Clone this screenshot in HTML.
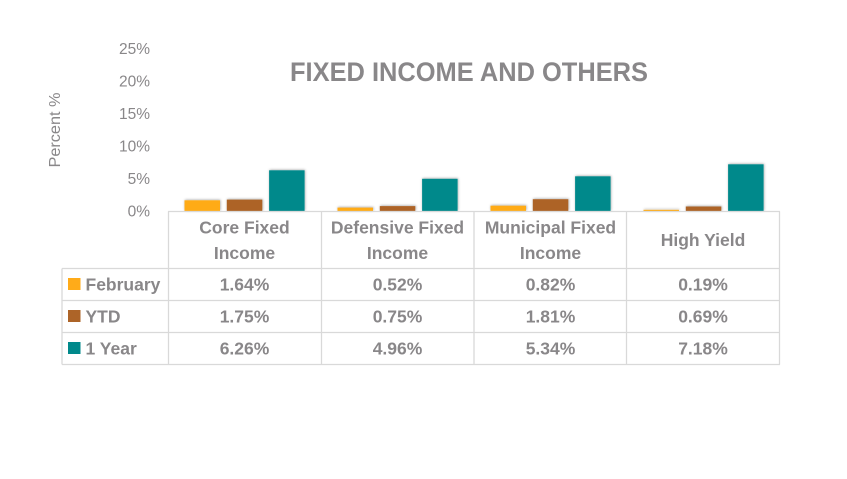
<!DOCTYPE html>
<html>
<head>
<meta charset="utf-8">
<style>
html,body{margin:0;padding:0;background:#fff;}
svg{display:block;}
text{font-family:"Liberation Sans",Arial,sans-serif;fill:#898789;}
</style>
</head>
<body>
<svg width="847" height="479" viewBox="0 0 847 479" xmlns="http://www.w3.org/2000/svg">
<defs>
<filter id="sh" x="-30%" y="-30%" width="160%" height="160%">
<feDropShadow dx="0.5" dy="-0.5" stdDeviation="1.4" flood-color="#000" flood-opacity="0.35"/>
</filter>
</defs>

<!-- Title -->
<text x="469" y="81" font-size="27" font-weight="bold" text-anchor="middle" textLength="358" lengthAdjust="spacingAndGlyphs">FIXED INCOME AND OTHERS</text>

<!-- Y axis title -->
<text transform="translate(60,130) rotate(-90)" font-size="15.5" text-anchor="middle" textLength="75" lengthAdjust="spacingAndGlyphs">Percent %</text>

<!-- Y tick labels -->
<g font-size="15.5" text-anchor="end">
<text x="150" y="216.5">0%</text>
<text x="150" y="184">5%</text>
<text x="150" y="151.5">10%</text>
<text x="150" y="119">15%</text>
<text x="150" y="86.5">20%</text>
<text x="150" y="54">25%</text>
</g>

<!-- Bars -->
<g filter="url(#sh)">
<!-- Core Fixed Income c=168 -->
<rect x="184.5" y="200.3" width="35.5" height="10.7" fill="#FFAB19"/>
<rect x="226.8" y="199.6" width="35.5" height="11.4" fill="#AD6428"/>
<rect x="269.1" y="170.3" width="35.5" height="40.7" fill="#00898B"/>
<!-- Defensive c=321 -->
<rect x="337.5" y="207.6" width="35.5" height="3.4" fill="#FFAB19"/>
<rect x="379.8" y="206.1" width="35.5" height="4.9" fill="#AD6428"/>
<rect x="422.1" y="178.8" width="35.5" height="32.2" fill="#00898B"/>
<!-- Municipal c=474 -->
<rect x="490.5" y="205.7" width="35.5" height="5.3" fill="#FFAB19"/>
<rect x="532.8" y="199.2" width="35.5" height="11.8" fill="#AD6428"/>
<rect x="575.1" y="176.3" width="35.5" height="34.7" fill="#00898B"/>
<!-- High Yield c=627 -->
<rect x="643.5" y="209.8" width="35.5" height="1.2" fill="#FFAB19"/>
<rect x="685.8" y="206.5" width="35.5" height="4.5" fill="#AD6428"/>
<rect x="728.1" y="164.3" width="35.5" height="46.7" fill="#00898B"/>
</g>

<!-- Table grid -->
<g stroke="#D9D9D9" stroke-width="1.3" fill="none">
<line x1="168" y1="211.5" x2="780" y2="211.5"/>
<line x1="62" y1="268.5" x2="780" y2="268.5"/>
<line x1="62" y1="300.5" x2="780" y2="300.5"/>
<line x1="62" y1="332.5" x2="780" y2="332.5"/>
<line x1="62" y1="364.5" x2="780" y2="364.5"/>
<line x1="62" y1="268.5" x2="62" y2="364.5"/>
<line x1="168.5" y1="211.5" x2="168.5" y2="364.5"/>
<line x1="321.5" y1="211.5" x2="321.5" y2="364.5"/>
<line x1="474" y1="211.5" x2="474" y2="364.5"/>
<line x1="626.5" y1="211.5" x2="626.5" y2="364.5"/>
<line x1="779.5" y1="211.5" x2="779.5" y2="364.5"/>
</g>

<!-- Category headers -->
<g font-size="17.5" font-weight="bold" text-anchor="middle">
<text x="244.5" y="233.5">Core Fixed</text>
<text x="244.5" y="259">Income</text>
<text x="397.5" y="233.5">Defensive Fixed</text>
<text x="397.5" y="259">Income</text>
<text x="550.5" y="233.5">Municipal Fixed</text>
<text x="550.5" y="259">Income</text>
<text x="703" y="246">High Yield</text>
</g>

<!-- Legend keys -->
<rect x="68" y="278" width="12.5" height="12" fill="#FFAB19"/>
<rect x="68" y="310" width="12.5" height="12" fill="#AD6428"/>
<rect x="68" y="342" width="12.5" height="12" fill="#00898B"/>

<g font-size="17.5" font-weight="bold">
<text x="85.5" y="290.5">February</text>
<text x="85.5" y="322.5">YTD</text>
<text x="85.5" y="354.5">1 Year</text>
</g>

<!-- Values -->
<g font-size="17.5" font-weight="bold" text-anchor="middle">
<text x="244.5" y="290.5">1.64%</text>
<text x="397.5" y="290.5">0.52%</text>
<text x="550.5" y="290.5">0.82%</text>
<text x="703" y="290.5">0.19%</text>

<text x="244.5" y="322.5">1.75%</text>
<text x="397.5" y="322.5">0.75%</text>
<text x="550.5" y="322.5">1.81%</text>
<text x="703" y="322.5">0.69%</text>

<text x="244.5" y="354.5">6.26%</text>
<text x="397.5" y="354.5">4.96%</text>
<text x="550.5" y="354.5">5.34%</text>
<text x="703" y="354.5">7.18%</text>
</g>
</svg>
</body>
</html>
